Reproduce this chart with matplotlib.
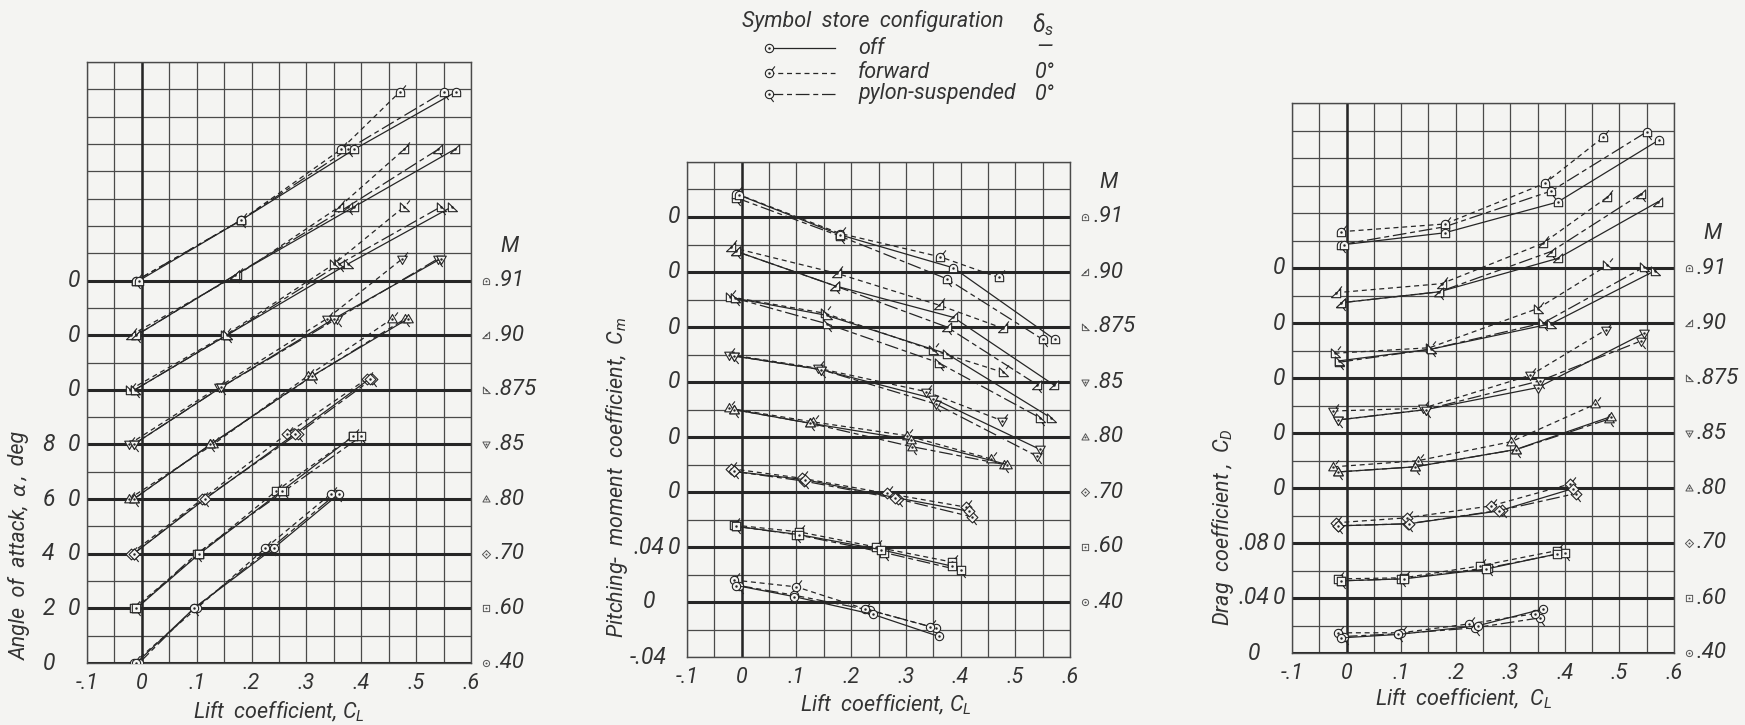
import numpy as np
import matplotlib
matplotlib.use('Agg')
import matplotlib.pyplot as plt
from matplotlib.path import Path
from matplotlib.markers import MarkerStyle
from matplotlib.lines import Line2D

# Mach numbers, bottom curve first
MACH_LABELS = ['.40', '.60', '.70', '.80', '.85', '.875', '.90', '.91']

# lift coefficient of the test points: store off / forward / pylon-suspended
CL_OFF = [
    [-0.010, 0.095, 0.240, 0.360],
    [-0.010, 0.105, 0.255, 0.385],
    [-0.015, 0.115, 0.280, 0.415],
    [-0.015, 0.125, 0.310, 0.485],
    [-0.015, 0.145, 0.350, 0.545],
    [-0.013, 0.155, 0.375, 0.565],
    [-0.010, 0.170, 0.387, 0.570],
    [-0.005, 0.180, 0.387, 0.572],
]
CL_FWD = [
    [-0.015, 0.100, 0.225, 0.345],
    [-0.015, 0.105, 0.245, 0.385],
    [-0.020, 0.110, 0.265, 0.410],
    [-0.024, 0.130, 0.302, 0.456],
    [-0.024, 0.140, 0.337, 0.475],
    [-0.022, 0.152, 0.350, 0.478],
    [-0.020, 0.174, 0.360, 0.478],
    [-0.010, 0.180, 0.363, 0.470],
]
CL_PYL = [
    [-0.005, 0.095, 0.235, 0.355],
    [-0.010, 0.100, 0.260, 0.400],
    [-0.015, 0.113, 0.285, 0.420],
    [-0.015, 0.125, 0.311, 0.480],
    [-0.015, 0.145, 0.355, 0.540],
    [-0.013, 0.155, 0.360, 0.545],
    [-0.010, 0.170, 0.375, 0.540],
    [-0.010, 0.180, 0.375, 0.550],
]

# angle of attack, deg (same nominal angles for the three configurations)
ALPHA = [
    [0.0, 2.0, 4.2, 6.2],
    [0.0, 2.0, 4.3, 6.3],
    [0.0, 2.0, 4.4, 6.4],
    [0.0, 2.0, 4.5, 6.6],
    [0.0, 2.1, 4.6, 6.8],
    [0.0, 2.0, 4.6, 6.7],
    [0.0, 2.2, 4.7, 6.8],
    [0.0, 2.2, 4.8, 6.9],
]

# pitching-moment coefficient
CM_OFF = [
    [0.012, 0.004, -0.009, -0.025],
    [0.015, 0.009, -0.002, -0.014],
    [0.015, 0.009, -0.004, -0.014],
    [0.020, 0.010, -0.002, -0.020],
    [0.019, 0.009, -0.012, -0.049],
    [0.021, 0.0085, -0.0195, -0.066],
    [0.015, -0.010, -0.033, -0.082],
    [0.016, -0.013, -0.037, -0.089],
]
CM_FWD = [
    [0.016, 0.011, -0.005, -0.018],
    [0.016, 0.011, 0.000, -0.011],
    [0.017, 0.010, -0.001, -0.011],
    [0.021, 0.011, 0.001, -0.016],
    [0.020, 0.010, -0.007, -0.028],
    [0.022, 0.010, -0.017, -0.033],
    [0.018, -0.001, -0.024, -0.041],
    [0.017, -0.012, -0.029, -0.044],
]
CM_PYL = [
    [0.012, 0.005, -0.006, -0.019],
    [0.015, 0.009, -0.004, -0.017],
    [0.015, 0.008, -0.005, -0.018],
    [0.020, 0.010, -0.007, -0.020],
    [0.019, 0.009, -0.016, -0.054],
    [0.021, 0.0024, -0.026, -0.066],
    [0.015, -0.010, -0.040, -0.082],
    [0.014, -0.014, -0.045, -0.089],
]

# drag coefficient
CD_OFF = [
    [0.011, 0.0135, 0.0198, 0.032],
    [0.0125, 0.0139, 0.021, 0.032],
    [0.0125, 0.014, 0.0234, 0.0396],
    [0.0117, 0.0154, 0.028, 0.052],
    [0.0095, 0.017, 0.033, 0.0725],
    [0.0125, 0.021, 0.0395, 0.078],
    [0.0147, 0.0227, 0.047, 0.088],
    [0.017, 0.0256, 0.048, 0.093],
]
CD_FWD = [
    [0.0147, 0.0147, 0.0212, 0.0286],
    [0.0139, 0.0147, 0.0234, 0.0344],
    [0.0147, 0.0183, 0.027, 0.043],
    [0.0154, 0.0198, 0.0337, 0.061],
    [0.016, 0.018, 0.042, 0.075],
    [0.018, 0.022, 0.0505, 0.082],
    [0.022, 0.0286, 0.058, 0.0916],
    [0.0264, 0.032, 0.0615, 0.095],
]
CD_PYL = [
    [0.012, 0.014, 0.0183, 0.0256],
    [0.0125, 0.0139, 0.022, 0.033],
    [0.0125, 0.014, 0.024, 0.036],
    [0.0117, 0.0154, 0.028, 0.050],
    [0.0095, 0.017, 0.038, 0.067],
    [0.0115, 0.021, 0.040, 0.0806],
    [0.0147, 0.0227, 0.052, 0.094],
    [0.017, 0.030, 0.056, 0.099],
]

X_TICKS = [-0.1, 0.0, 0.1, 0.2, 0.3, 0.4, 0.5, 0.6]
X_TICK_LABELS = ['-.1', '0', '.1', '.2', '.3', '.4', '.5', '.6']

BG = '#f4f4f2'
INK = '#262626'
GRID = '#4a4a4a'

plt.rcParams['font.family'] = ['Roboto', 'DejaVu Sans']
plt.rcParams['mathtext.fontset'] = 'custom'
plt.rcParams['mathtext.it'] = 'Roboto:italic'
plt.rcParams['mathtext.rm'] = 'Roboto'
TXT = dict(fontstyle='italic', color='#333333')
FS = 15.5


def body_path(k):
    if k == 0:
        t = np.linspace(0, 2 * np.pi, 25)
        v = list(zip(np.cos(t), np.sin(t)))
    elif k == 1:
        v = [(-1, -1), (1, -1), (1, 1), (-1, 1), (-1, -1)]
    elif k == 2:
        v = [(0, -1.3), (1.3, 0), (0, 1.3), (-1.3, 0), (0, -1.3)]
    elif k == 3:
        v = [(-1.15, -0.8), (1.15, -0.8), (0, 1.2), (-1.15, -0.8)]
    elif k == 4:
        v = [(-1.15, 0.8), (1.15, 0.8), (0, -1.2), (-1.15, 0.8)]
    elif k == 5:
        v = [(-1, 1.1), (-1, -1), (1.2, -1), (-1, 1.1)]
    elif k == 6:
        v = [(1, 1.1), (1, -1), (-1.2, -1), (1, 1.1)]
    else:
        t = np.linspace(0, np.pi, 13)
        v = [(-1, -1), (1, -1)] + list(zip(np.cos(t), np.sin(t))) + [(-1, -1)]
    return Path(v, closed=True)


def marker(k, flag):
    parts = [body_path(k), Path.circle((0, 0), 0.16)]
    if flag == 'fwd':
        parts.append(Path([(0.6, 0.8), (1.3, 1.7)], [Path.MOVETO, Path.LINETO]))
    elif flag == 'pyl':
        parts.append(Path([(0.4, -1.0), (1.0, -1.8)], [Path.MOVETO, Path.LINETO]))
    p = Path.make_compound_path(*parts)
    return MarkerStyle(p), np.abs(p.vertices).max()


CONFIGS = [('pyl', (0, (11, 3, 4, 3))), ('fwd', (0, (4, 3))), (None, '-')]


def setup(ax, ylo, yhi, cell, step, colA, colB):
    ax.set_facecolor(BG)
    ax.set_xlim(-0.1, 0.6)
    ax.set_ylim(ylo, yhi)
    ax.set_xticks(np.arange(-0.1, 0.6001, 0.05))
    ax.set_yticks(np.arange(ylo, yhi + cell / 2, cell))
    ax.grid(True, color=GRID, lw=0.9)
    ax.tick_params(length=0, labelbottom=False, labelleft=False)
    for s in ax.spines.values():
        s.set_color(GRID)
        s.set_linewidth(1.0)
    ax.axvline(0, color=INK, lw=1.8)
    base = ylo if ylo >= 0 else ylo + 2 * cell
    for i in range(8):
        ax.axhline(base + i * step, color=INK, lw=2.2)
    for v, t in zip(X_TICKS, X_TICK_LABELS):
        ax.annotate(t, (v, 0), xycoords=('data', 'axes fraction'), xytext=(0, -15),
                    textcoords='offset points', ha='center', va='center', fontsize=FS, **TXT)
    for v, t in colA:
        ax.annotate(t, (-0.10, v), xycoords=('axes fraction', 'data'),
                    ha='center', va='center', fontsize=FS + 1, **TXT)
    for i in range(len(MACH_LABELS)):
        if i in colB:
            ax.annotate('0', (-0.033, base + i * step), xycoords=('axes fraction', 'data'),
                        ha='center', va='center', fontsize=FS + 1, **TXT)
    tr = ax.get_yaxis_transform()
    for i, lab in enumerate(MACH_LABELS):
        y = base + i * step
        m, sc = marker(i, None)
        ax.plot([1.04], [y], transform=tr, marker=m, ms=4.5 * sc, mfc=BG, mec='#555555',
                mew=0.7, clip_on=False)
        ax.annotate(lab, (1.06, y), xycoords=('axes fraction', 'data'),
                    ha='left', va='center', fontsize=FS + 0.5, **TXT)
    ax.annotate('M', (1.10, base + 7 * step + 1.25 * cell), xycoords=('axes fraction', 'data'),
                ha='center', va='center', fontsize=FS, **TXT)
    return base


def draw(ax, base, step, values):
    for (flag, ls), vals, cls in zip(CONFIGS, values, [CL_PYL, CL_FWD, CL_OFF]):
        for i in range(len(MACH_LABELS)):
            m, sc = marker(i, flag)
            y = np.array(vals[i]) + base + i * step
            ax.plot(cls[i], y, ls=ls, color=INK, lw=0.9, marker=m, ms=6.0 * sc,
                    mfc=BG, mec=INK, mew=0.8, zorder=3)


fig = plt.figure(figsize=(17.45, 7.25), dpi=100, facecolor=BG)

# angle of attack
ax1 = fig.add_axes([87 / 1745, 1 - 663 / 725, 384 / 1745, 601 / 725])
b1 = setup(ax1, 0, 22, 1, 2, [(0, '0'), (2, '2'), (4, '4'), (6, '6'), (8, '8')], range(1, 8))
draw(ax1, b1, 2, [ALPHA, ALPHA, ALPHA])
# label split so the alpha comes from DejaVu Sans (Roboto's alpha reads like an "a")
fig.text(20 / 1745, 1 - 582 / 725, 'Angle  of  attack,', rotation=90,
         ha='center', va='center', fontsize=FS, **TXT)
fig.text(20 / 1745, 1 - 489 / 725, 'α', rotation=90, family='DejaVu Sans',
         ha='center', va='center', fontsize=FS - 1, **TXT)
fig.text(20 / 1745, 1 - 456 / 725, ',  deg', rotation=90,
         ha='center', va='center', fontsize=FS, **TXT)
ax1.text(0.5, -0.082, 'Lift  coefficient, $C_L$', transform=ax1.transAxes,
         ha='center', va='center', fontsize=FS, **TXT)

# pitching moment
ax2 = fig.add_axes([687 / 1745, 1 - 657 / 725, 383 / 1745, 495 / 725])
b2 = setup(ax2, -0.04, 0.32, 0.02, 0.04, [(-0.04, '-.04'), (0, '0'), (0.04, '.04')], range(1, 8))
draw(ax2, b2, 0.04, [CM_PYL, CM_FWD, CM_OFF])
fig.text(617 / 1745, 1 - 477 / 725, 'Pitching-  moment  coefficient,  $C_m$', rotation=90,
         ha='center', va='center', fontsize=FS, **TXT)
ax2.text(0.52, -0.097, 'Lift  coefficient, $C_L$', transform=ax2.transAxes,
         ha='center', va='center', fontsize=FS, **TXT)

# drag
ax3 = fig.add_axes([1292 / 1745, 1 - 653 / 725, 382 / 1745, 550 / 725])
b3 = setup(ax3, 0, 0.40, 0.02, 0.04, [(0, '0'), (0.04, '.04'), (0.08, '.08')], range(1, 8))
draw(ax3, b3, 0.04, [CD_PYL, CD_FWD, CD_OFF])
fig.text(1223 / 1745, 1 - 527 / 725, 'Drag  coefficient ,  $C_D$', rotation=90,
         ha='center', va='center', fontsize=FS, **TXT)
ax3.text(0.45, -0.084, 'Lift  coefficient,  $C_L$', transform=ax3.transAxes,
         ha='center', va='center', fontsize=FS, **TXT)

# legend
W, H = 1745.0, 725.0
fig.text(742 / W, 1 - 21 / H, 'Symbol  store  configuration', ha='left', va='center',
         fontsize=FS, **TXT)
fig.text(1043 / W, 1 - 25 / H, '$\\delta_s$', ha='center', va='center', fontsize=FS + 1, **TXT)
rows = [(None, '-', 'off', '—', 48), ('fwd', (0, (4, 3)), 'forward', '0°', 73),
        ('pyl', (0, (11, 3, 4, 3)), 'pylon-suspended', '0°', 94)]
for flag, ls, name, ds, y in rows:
    m, sc = marker(0, flag)
    fig.add_artist(Line2D([769 / W, 835 / W], [1 - y / H, 1 - y / H], transform=fig.transFigure,
                          ls=ls, color=INK, lw=0.9))
    fig.add_artist(Line2D([769 / W], [1 - y / H], transform=fig.transFigure, marker=m,
                          ms=6.0 * sc, mfc=BG, mec=INK, mew=0.8, ls='none'))
    fig.text(858 / W, 1 - y / H, name, ha='left', va='center', fontsize=FS, **TXT)
    fig.text(1045 / W, 1 - y / H, ds, ha='center', va='center', fontsize=FS, **TXT)

fig.savefig('out.png', dpi=100, facecolor=BG)
